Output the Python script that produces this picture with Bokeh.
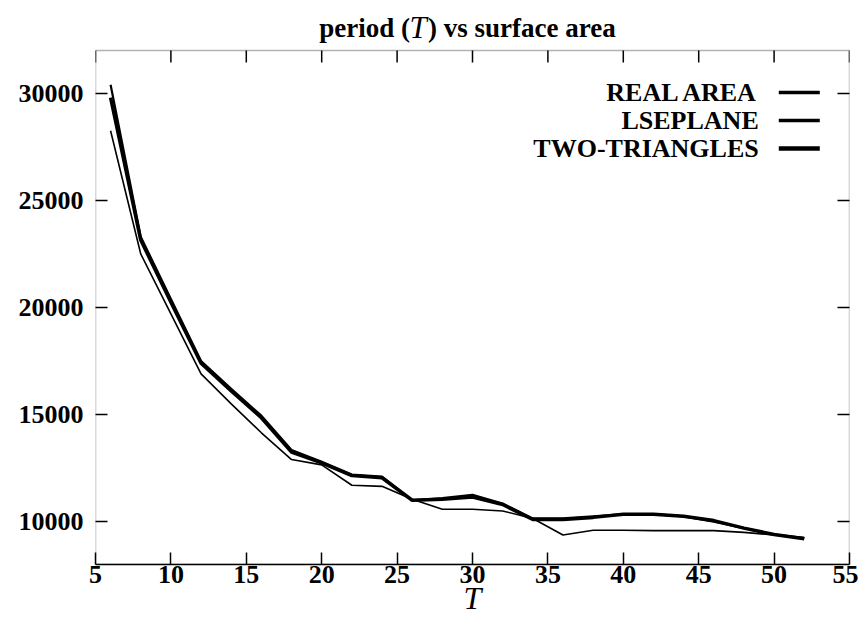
from bokeh.plotting import figure
from bokeh.models import LinearAxis, FixedTicker, Label, Arrow, Range1d, BoxAnnotation
from bokeh.embed import file_html
from bokeh.resources import INLINE

# ---- data ----
T = [6, 8, 10, 12, 14, 16, 18, 20, 22, 24, 26, 28, 30, 32, 34, 36, 38, 40, 42, 44, 46, 48, 50, 52]
real_area = [30400, 23300, 20400, 17500, 16200, 14950, 13350, 12800, 12200, 12100, 11000, 11100,
             11250, 10850, 10150, 10150, 10250, 10350, 10350, 10250, 10000, 9700, 9400, 9250]
two_triangles = [29800, 23150, 20250, 17400, 16100, 14850, 13250, 12750, 12150, 12050, 11000, 11050,
                 11150, 10800, 10100, 10100, 10200, 10350, 10350, 10250, 10050, 9700, 9400, 9200]
lseplane = [28250, 22500, 19700, 16900, 15500, 14150, 12900, 12650, 11700, 11650, 11050, 10580,
            10580, 10500, 10150, 9380, 9600, 9600, 9580, 9580, 9580, 9500, 9380, 9250]
series_names = ["REAL AREA", "LSEPLANE", "TWO-TRIANGLES"]
x_ticks = [5, 10, 15, 20, 25, 30, 35, 40, 45, 50, 55]
y_ticks = [10000, 15000, 20000, 25000, 30000]
title_parts = ["period (", "T", ") vs surface area"]
x_label = "T"
x_min, x_max = 5, 55
y_min, y_max = 8000, 32000

SERIF = "Liberation Serif"

# layout (pixels)
BOX_TOP = 50       # top edge of the plotting box on the page
BOX_BOTTOM = 564   # bottom edge
CANVAS_TOP = 10    # frame extends above the box to hold the title
upp = (y_max - y_min) / (BOX_BOTTOM - BOX_TOP)   # data units per pixel
frame_top_val = y_max + (BOX_TOP - CANVAS_TOP) * upp

p = figure(width=858, height=630, x_range=Range1d(x_min, x_max), y_range=Range1d(y_min, frame_top_val),
           output_backend="svg", toolbar_location=None, title=None,
           min_border_left=95, min_border_right=9, min_border_top=CANVAS_TOP, min_border_bottom=630 - BOX_BOTTOM)
p.xgrid.visible = False
p.ygrid.visible = False
p.outline_line_color = None
p.background_fill_color = "white"
p.border_fill_color = "white"

# the box
p.add_layout(BoxAnnotation(left=x_min, right=x_max, bottom=y_min, top=y_max, fill_color=None,
                           line_color="black", line_width=1.5, level="overlay"))

p.xaxis.ticker = FixedTicker(ticks=x_ticks)
p.yaxis.ticker = FixedTicker(ticks=y_ticks)

for ax in (p.xaxis[0], p.yaxis[0]):
    ax.axis_line_color = "black"
    ax.axis_line_width = 1.5
    ax.major_tick_in = 12
    ax.major_tick_out = 0
    ax.major_tick_line_width = 1.5
    ax.major_tick_line_color = "black"
    ax.minor_tick_line_color = None
    ax.major_label_text_font = SERIF
    ax.major_label_text_font_style = "bold"
    ax.major_label_text_font_size = "26px"
    ax.major_label_text_color = "black"
p.yaxis.axis_line_color = None

p.yaxis.major_label_standoff = 12
p.xaxis.major_label_standoff = 1
p.xaxis.axis_label = x_label
p.xaxis.axis_label_text_font = SERIF
p.xaxis.axis_label_text_font_style = "italic"
p.xaxis.axis_label_text_font_size = "32px"
p.xaxis.axis_label_text_color = "black"
p.xaxis.axis_label_standoff = -6

# mirrored ticks on the right
right = LinearAxis(ticker=FixedTicker(ticks=y_ticks))
right.axis_line_color = None
right.major_tick_in = 12
right.major_tick_out = 0
right.major_tick_line_width = 1.5
right.minor_tick_line_color = None
right.major_label_overrides = {t: "" for t in y_ticks}
right.major_label_text_font_size = "0px"
right.major_label_standoff = 0
p.add_layout(right, "right")

# mirrored ticks on the top edge of the box
tick_len = 12 * upp
p.segment(x0=x_ticks, y0=[y_max] * len(x_ticks), x1=x_ticks, y1=[y_max - tick_len] * len(x_ticks),
          line_color="black", line_width=1.5)

# series
p.line(T, real_area, line_color="black", line_width=2.2)
p.line(T, two_triangles, line_color="black", line_width=3.5)
p.line(T, lseplane, line_color="black", line_width=1.6)

# legend (gnuplot style: text right-aligned, sample on the right)
leg_text_x = 48.98
leg_rows_px = [92, 120, 148]
leg_widths = [3.5, 3.5, 4.5]
for name, row, lw in zip(series_names, leg_rows_px, leg_widths):
    yy = y_max - (row - BOX_TOP) * upp
    p.add_layout(Label(x=leg_text_x, y=yy, text=name, text_align="right", text_baseline="middle",
                       text_font=SERIF, text_font_style="bold", text_font_size="26px", text_color="black"))
    p.add_layout(Arrow(start=None, end=None, x_start=50.31, x_end=53.03, y_start=yy,
                       y_end=yy, line_color="black", line_width=lw))

# title
ty = y_max + (BOX_TOP - 27) * upp
p.add_layout(Label(x=25.85, y=ty, text=title_parts[0], text_align="right", text_baseline="middle",
                   text_font=SERIF, text_font_style="bold", text_font_size="27px", text_color="black"))
p.add_layout(Label(x=26.4, y=ty, text=title_parts[1], text_align="center", text_baseline="middle",
                   text_font=SERIF, text_font_style="italic", text_font_size="31px", text_color="black"))
p.add_layout(Label(x=27.05, y=ty, text=title_parts[2], text_align="left", text_baseline="middle",
                   text_font=SERIF, text_font_style="bold", text_font_size="27px", text_color="black"))

open("out.html", "w").write(file_html(p, INLINE))
